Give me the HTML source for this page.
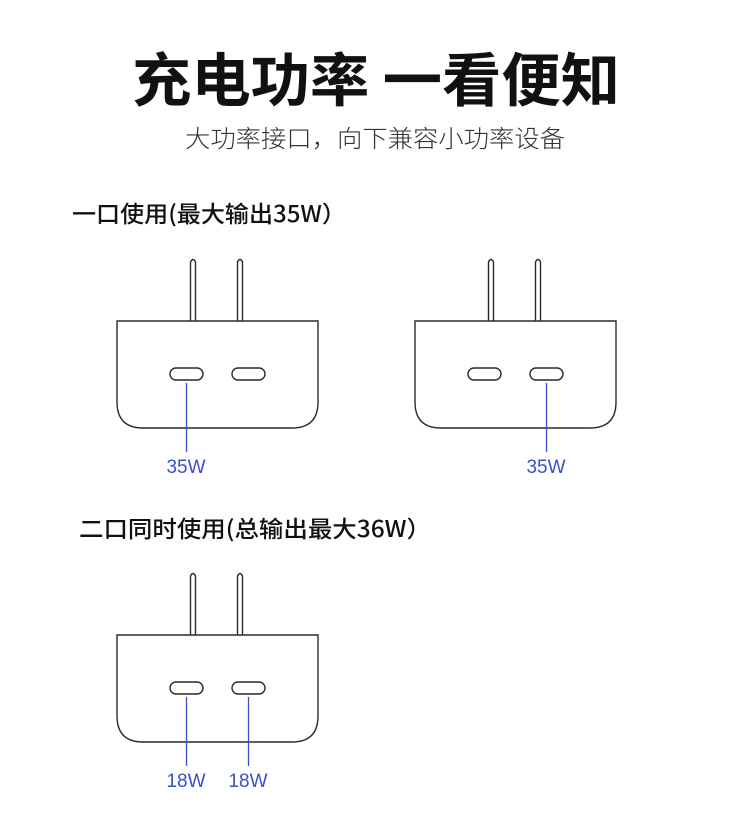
<!DOCTYPE html>
<html><head><meta charset="utf-8"><style>
html,body{margin:0;padding:0;background:#fff;width:750px;height:840px;overflow:hidden}
</style></head><body>
<svg width="750" height="840" viewBox="0 0 750 840" xmlns="http://www.w3.org/2000/svg" style="font-family:'Liberation Sans','Noto Sans CJK SC',sans-serif">
<defs>
<g id="chg" fill="none" stroke="#2a2a2a" stroke-width="1.4">
  <path d="M190.5 321 V262 Q193 257 195.5 262 V321"/>
  <path d="M237.5 321 V262 Q240 257 242.5 262 V321"/>
  <path d="M117 321 H318 V402 Q318 428 292 428 H143 Q117 428 117 402 Z" fill="#fff"/>
  <rect x="170" y="368" width="33" height="12" rx="6"/>
  <rect x="232" y="368" width="33" height="12" rx="6"/>
</g>
</defs>
<text x="376" y="101" text-anchor="middle" font-size="58" font-weight="bold" fill="#111" textLength="488" lengthAdjust="spacingAndGlyphs" font-family="'Noto Sans CJK SC',sans-serif">充电功率 一看便知</text>
<text x="375" y="147" text-anchor="middle" font-size="24" font-weight="300" fill="#333" textLength="380" lengthAdjust="spacingAndGlyphs" font-family="'Noto Sans CJK SC',sans-serif">大功率接口，向下兼容小功率设备</text>
<text x="72" y="222" font-size="23" font-weight="500" fill="#111" textLength="274" lengthAdjust="spacingAndGlyphs" font-family="'Noto Sans CJK SC',sans-serif">一口使用(最大输出35W）</text>
<text x="79" y="537" font-size="23" font-weight="500" fill="#111" textLength="352" lengthAdjust="spacingAndGlyphs" font-family="'Noto Sans CJK SC',sans-serif">二口同时使用(总输出最大36W）</text>

<use href="#chg"/>
<use href="#chg" transform="translate(298,0)"/>
<use href="#chg" transform="translate(0,314)"/>

<g stroke="#3a4fd0" stroke-width="1.3">
  <line x1="186.5" y1="383" x2="186.5" y2="452"/>
  <line x1="546.5" y1="383" x2="546.5" y2="452"/>
  <line x1="186.5" y1="697" x2="186.5" y2="766"/>
  <line x1="248.5" y1="697" x2="248.5" y2="766"/>
</g>
<g fill="#3a4fd0" font-size="19" text-anchor="middle">
  <text x="186" y="473">35W</text>
  <text x="546" y="473">35W</text>
  <text x="186" y="787">18W</text>
  <text x="248" y="787">18W</text>
</g>
</svg>
</body></html>
